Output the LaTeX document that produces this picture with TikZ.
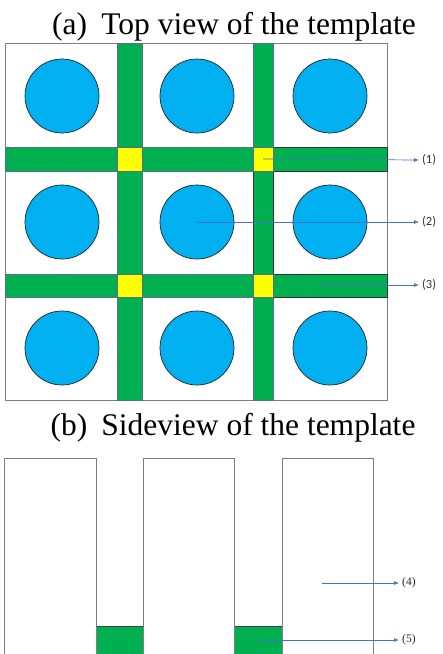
\documentclass[tikz,border=0pt]{standalone}
\usepackage{fontspec}
\setmainfont{Liberation Serif}
\newfontfamily\labelsans{Carlito}
\usetikzlibrary{arrows.meta}
\definecolor{stripgreen}{HTML}{00B050}
\definecolor{discblue}{HTML}{00B0F0}
\definecolor{jointyellow}{HTML}{FFFF00}
\definecolor{pointer}{HTML}{4472C4}
\definecolor{edgegray}{HTML}{7F7F7F}
\definecolor{stripedge}{HTML}{5A6E8C}
\tikzset{
  title/.style={anchor=base, inner sep=0pt, font=\fontsize{31.5}{36}\selectfont},
  cellframe/.style={draw=edgegray, line width=0.9pt},
  strip/.style={fill=stripgreen, draw=stripedge, line width=0.6pt},
  stripdark/.style={draw=black!80, line width=0.8pt},
  joint/.style={fill=jointyellow, draw=stripedge, line width=0.6pt},
  disc/.style={circle, fill=discblue, draw=black!85, line width=0.7pt,
    minimum size=74pt, inner sep=0pt},
  pointerline/.style={draw=pointer, line width=0.7pt,
    -{Latex[length=5pt,width=4pt]}},
  tag/.style={anchor=west, inner sep=0pt, text=black!80,
    font=\labelsans\fontsize{12.5}{14}\selectfont},
  serifftag/.style={anchor=west, inner sep=0pt, text=black!85,
    font=\fontsize{11.5}{13}\selectfont},
  wallbox/.style={draw=edgegray, line width=0.9pt},
}
\begin{document}
\begin{tikzpicture}[x=1pt, y=-1pt]
\path[use as bounding box] (0,0) rectangle (443,654);

% ---- (a) top view ----
\node[title] (ta) at (234,34) {(a)\hspace{0.45em}Top view of the template};

% outer frame of the template
\draw[cellframe, fill=white] (5,43) rectangle (387,400);

% green channels
\draw[strip] (5,147) rectangle (387,171);
\draw[strip] (5,274) rectangle (387,297);
\draw[strip] (117,43) rectangle (142,400);
\draw[strip] (253,43) rectangle (273,400);
% darker outlines on the right-hand channel segments
\draw[stripdark] (273,147) rectangle (387,171);
\draw[stripdark] (253,171) rectangle (273,274);
\draw[stripdark] (273,274) rectangle (387,297);

% yellow crossings
\node[joint, minimum width=25pt, minimum height=24pt, inner sep=0pt] (j11) at (129.5,159) {};
\node[joint, minimum width=20pt, minimum height=24pt, inner sep=0pt] (j12) at (263,159) {};
\node[joint, minimum width=25pt, minimum height=23pt, inner sep=0pt] (j21) at (129.5,285.5) {};
\node[joint, minimum width=20pt, minimum height=23pt, inner sep=0pt] (j22) at (263,285.5) {};

% wells
\node[disc] (c11) at (62,96) {};
\node[disc] (c12) at (197,96) {};
\node[disc] (c13) at (330,96) {};
\node[disc] (c21) at (62,222) {};
\node[disc] (c22) at (197,222) {};
\node[disc] (c23) at (330,222) {};
\node[disc] (c31) at (62,348) {};
\node[disc] (c32) at (197,348) {};
\node[disc] (c33) at (330,348) {};

% callouts
\node[tag] (l1) at (422,160) {(1)};
\node[tag] (l2) at (422,222) {(2)};
\node[tag] (l3) at (422,285) {(3)};
\coordinate (p3) at (318,285);
\draw[pointerline] (j12.center) -- ([xshift=-3pt]l1.west);
\draw[pointerline] (c22.center) -- ([xshift=-3pt]l2.west);
\draw[pointerline] (p3) -- ([xshift=-3pt]l3.west);

% ---- (b) side view ----
\node[title] (tb) at (233,435) {(b)\hspace{0.45em}Sideview of the template};

\fill[stripgreen] (96,626) rectangle (143,654);
\fill[stripgreen] (234,626) rectangle (282,654);
\draw[black!75, line width=0.6pt] (96,626) -- (143,626);
\draw[black!75, line width=0.6pt] (234,626) -- (282,626);

\draw[wallbox] (4,654) -- (4,458) -- (96,458) -- (96,654);
\draw[wallbox] (143,654) -- (143,458) -- (234,458) -- (234,654);
\draw[wallbox] (282,654) -- (282,458) -- (373,458) -- (373,654);

\node[serifftag] (l4) at (402,583) {(4)};
\node[serifftag] (l5) at (402,640) {(5)};
\coordinate (p4) at (322,583);
\coordinate (p5) at (258,640);
\draw[pointerline] (p4) -- ([xshift=-3pt]l4.west);
\draw[pointerline] (p5) -- ([xshift=-3pt]l5.west);
\end{tikzpicture}
\end{document}
